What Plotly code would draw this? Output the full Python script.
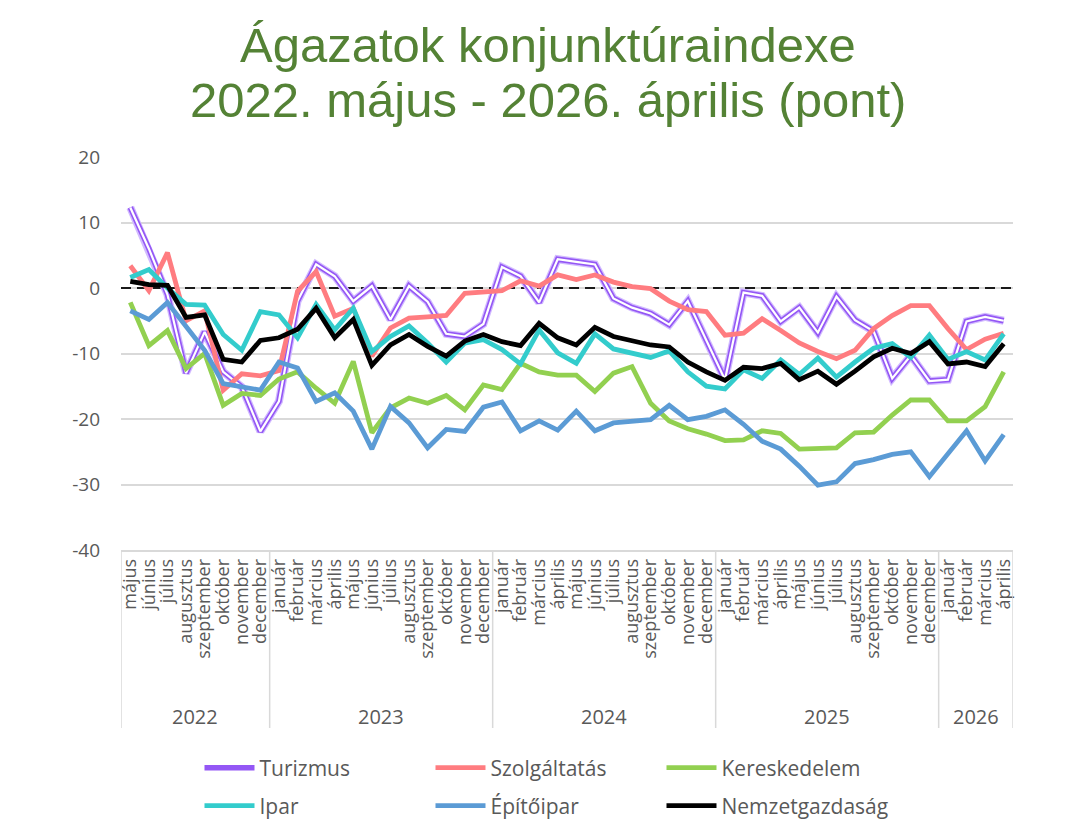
import plotly.graph_objects as go

# ---------------- data ----------------
month_names = ["január", "február", "március", "április", "május", "június",
               "július", "augusztus", "szeptember", "október", "november", "december"]
years = ["2022", "2023", "2024", "2025", "2026"]
year_counts = [8, 12, 12, 12, 4]          # months shown per year (2022: máj-dec, 2026: jan-ápr)

months = month_names[4:] + month_names * 3 + month_names[:4]

turizmus = [12.3, 6.0, -1.0, -13.0, -6.7, -12.8, -15.1, -21.9, -17.3, -2.0,
            3.6, 1.8, -2.0, 0.3, -4.8, 0.3, -2.1, -7.0, -7.4, -5.5,
            3.2, 1.8, -2.2, 4.4, 4.0, 3.6, -1.6, -3.0, -3.9, -5.6,
            -2.0, -8.0, -14.0, -0.7, -1.2, -5.1, -3.0, -6.8, -1.3, -4.9,
            -6.6, -13.8, -10.3, -14.2, -14.0, -5.1, -4.4, -5.0]
szolgaltatas = [3.4, -0.4, 5.4, -5.0, -3.5, -15.6, -13.1, -13.4, -12.6, -0.5,
                2.5, -4.3, -3.1, -10.4, -6.1, -4.6, -4.4, -4.2, -0.8, -0.6,
                -0.4, 1.1, 0.3, 2.0, 1.3, 2.0, 0.9, 0.2, -0.1, -2.0,
                -3.3, -3.6, -7.2, -6.9, -4.7, -6.5, -8.4, -9.7, -10.8, -9.5,
                -6.2, -4.2, -2.7, -2.7, -6.2, -9.4, -7.8, -6.9]
kereskedelem = [-2.2, -8.8, -6.5, -12.3, -10.0, -17.9, -16.1, -16.4, -13.9, -12.8,
                -15.3, -17.6, -11.2, -22.1, -18.3, -16.8, -17.6, -16.4, -18.6, -14.8,
                -15.5, -11.5, -12.8, -13.3, -13.3, -15.8, -13.0, -12.0, -17.6, -20.3,
                -21.5, -22.3, -23.3, -23.2, -21.8, -22.2, -24.6, -24.5, -24.4, -22.1,
                -22.0, -19.4, -17.1, -17.1, -20.3, -20.3, -18.1, -12.8]
ipar = [1.6, 2.8, 0.0, -2.5, -2.6, -7.1, -9.5, -3.6, -4.1, -7.6,
        -2.5, -6.4, -3.1, -9.7, -7.4, -5.8, -8.4, -11.3, -8.4, -7.9,
        -9.4, -11.6, -6.4, -9.9, -11.5, -7.0, -9.3, -9.9, -10.6, -9.6,
        -12.8, -15.0, -15.4, -12.5, -13.8, -11.0, -13.2, -10.7, -13.6, -11.3,
        -9.2, -8.5, -10.6, -7.2, -10.9, -9.7, -11.0, -7.0]
epitoipar = [-3.5, -4.8, -2.2, -6.0, -9.5, -14.6, -15.1, -15.6, -11.3, -12.2,
             -17.3, -16.0, -18.8, -24.6, -18.1, -20.6, -24.4, -21.6, -21.9, -18.2,
             -17.4, -21.8, -20.3, -21.7, -18.8, -21.8, -20.6, -20.3, -20.1, -17.9,
             -20.1, -19.6, -18.6, -20.8, -23.4, -24.6, -27.2, -30.1, -29.6, -26.8,
             -26.2, -25.4, -25.0, -28.8, -25.3, -21.8, -26.4, -22.4]
nemzetgazdasag = [1.0, 0.5, 0.4, -4.5, -4.1, -10.9, -11.3, -8.0, -7.6, -6.3,
                  -3.1, -7.6, -4.8, -11.8, -8.7, -7.1, -8.9, -10.4, -8.1, -7.1,
                  -8.2, -8.8, -5.4, -7.6, -8.7, -6.0, -7.4, -8.0, -8.7, -9.0,
                  -11.3, -12.8, -14.1, -12.1, -12.3, -11.5, -14.0, -12.7, -14.7, -12.7,
                  -10.5, -9.2, -10.0, -8.2, -11.6, -11.3, -12.0, -8.5]

y_ticks = [20, 10, 0, -10, -20, -30, -40]
y_tick_labels = ["20", "10", "0", "-10", "-20", "-30", "-40"]
reference_level = [0, 0]

# ---------------- figure ----------------
x = list(range(len(months)))
x_edges = [-0.5, len(months) - 0.5]
GRAY = "#595959"
GRID = "#D9D9D9"

fig = go.Figure()

# dashed zero reference line (under the series)
fig.add_trace(go.Scatter(x=x_edges, y=reference_level, mode="lines", showlegend=False,
                         hoverinfo="skip",
                         line=dict(color="#1a1a1a", width=2.2, dash="10px,6px")))

# Turizmus: double line (purple + white core)
fig.add_trace(go.Scatter(x=x, y=turizmus, mode="lines", name="Turizmus",
                         line=dict(color="#D2BBFF", width=8), showlegend=False,
                         hoverinfo="skip"))
fig.add_trace(go.Scatter(x=x, y=turizmus, mode="lines", name="Turizmus",
                         line=dict(color="#9457F5", width=5.5), legend="legend"))
fig.add_trace(go.Scatter(x=x, y=turizmus, mode="lines", name="Turizmus",
                         line=dict(color="white", width=2.2), showlegend=False,
                         hoverinfo="skip"))

series = [
    ("Szolgáltatás", szolgaltatas, "#FF7C80", "legend"),
    ("Kereskedelem", kereskedelem, "#92D050", "legend"),
    ("Ipar", ipar, "#33CCCC", "legend2"),
    ("Építőipar", epitoipar, "#5B9BD5", "legend2"),
    ("Nemzetgazdaság", nemzetgazdasag, "#000000", "legend2"),
]
for name, vals, col, leg in series:
    fig.add_trace(go.Scatter(x=x, y=vals, mode="lines", name=name,
                             line=dict(color=col, width=4.8), legend=leg))

# year group dividers and labels
bounds = [-0.5]
for c in year_counts:
    bounds.append(bounds[-1] + c)
for b in bounds:
    fig.add_shape(type="line", xref="x", yref="paper", x0=b, x1=b, y0=0, y1=-0.453,
                  line=dict(color=GRID, width=1.5))

H_PLOT = 393.0
def py(pix):
    return (550.0 - pix) / H_PLOT

for i, yr in enumerate(years):
    fig.add_annotation(x=(bounds[i] + bounds[i + 1]) / 2, y=py(716), xref="x", yref="paper",
                       text=yr, showarrow=False, yanchor="middle",
                       font=dict(family="Open Sans", size=20, color=GRAY))

# title
for txt, ypix in [("Ágazatok konjunktúraindexe", 45), ("2022. május - 2026. április (pont)", 100)]:
    fig.add_annotation(x=0.4787, y=py(ypix), xref="paper", yref="paper", text=txt,
                       showarrow=False, yanchor="middle",
                       font=dict(family="Liberation Sans", size=49, color="#548235"))

legend_common = dict(orientation="h", xanchor="left", yanchor="middle",
                     entrywidth=166, entrywidthmode="pixels", itemwidth=50,
                     font=dict(family="Open Sans", size=21, color=GRAY),
                     bgcolor="rgba(0,0,0,0)", tracegroupgap=0)

fig.update_layout(
    width=1084, height=829,
    paper_bgcolor="white", plot_bgcolor="white",
    margin=dict(l=121, r=71, t=157, b=279, autoexpand=False),
    xaxis=dict(range=x_edges, tickmode="array", tickvals=x, ticktext=months,
               tickangle=-90, tickfont=dict(family="Open Sans", size=18, color=GRAY),
               showgrid=False, zeroline=False, showline=True, linecolor=GRID, linewidth=1.5,
               ticks="", automargin=False),
    yaxis=dict(range=[-40, 20], tickmode="array", tickvals=y_ticks, ticktext=y_tick_labels,
               tickfont=dict(family="Open Sans", size=19, color=GRAY),
               showgrid=True, gridcolor=GRID, gridwidth=1.5, zeroline=False,
               showline=False, ticks="", ticklabelstandoff=20, automargin=False),
    legend=dict(x=0.088, y=py(768), **legend_common),
    legend2=dict(x=0.088, y=py(806), **legend_common),
    showlegend=True,
)

fig.write_html("out.html")
